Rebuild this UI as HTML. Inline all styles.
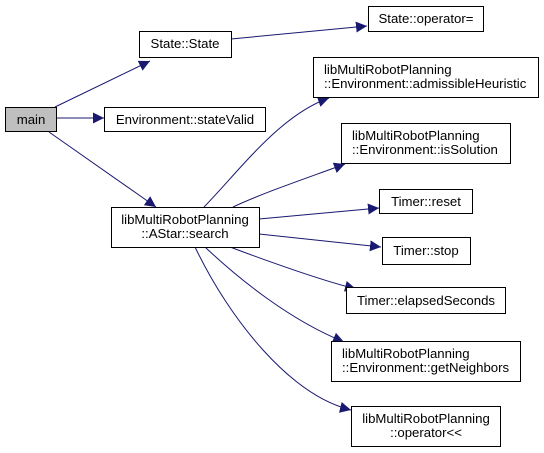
<!DOCTYPE html>
<html><head><style>body{margin:0;background:#fff}svg{display:block}text{font-family:"Liberation Sans",sans-serif;font-size:13.2px;fill:#000}</style></head><body>
<svg width="544" height="453" viewBox="0 0 544 453">
<defs><marker id="a" viewBox="0 0 10 10" refX="10" refY="5" markerWidth="11" markerHeight="11" markerUnits="userSpaceOnUse" orient="auto"><path d="M0,0L10,5L0,10z" fill="#191970"/></marker></defs>
<g fill="none" stroke="#191970" stroke-width="1" marker-end="url(#a)">
<path d="M55,107L150,61"/>
<path d="M231,39L367,26"/>
<path d="M56,118L104,118"/>
<path d="M49,132L156,207"/>
<path d="M204,207C240,170 280,115 329,98"/>
<path d="M233,207C265,192 310,177 345,164"/>
<path d="M259,219L379,208"/>
<path d="M259,234L381,247"/>
<path d="M230,247C270,262 320,280 356,289"/>
<path d="M205,247C240,280 290,320 344,342"/>
<path d="M195,247C230,320 290,395 351,410"/>
</g>
<g stroke="#000" stroke-width="1" fill="#fff">
<rect x="5.5" y="107.5" width="51" height="24" fill="#bfbfbf"/>
<rect x="139.5" y="31.5" width="92" height="26"/>
<rect x="104.5" y="107.5" width="161" height="24"/>
<rect x="111.5" y="207.5" width="148" height="40"/>
<rect x="368.5" y="6.5" width="115" height="25"/>
<rect x="313.5" y="57.5" width="225" height="40"/>
<rect x="341.5" y="123.5" width="169" height="40"/>
<rect x="379.5" y="189.5" width="93" height="24"/>
<rect x="382.5" y="237.5" width="88" height="27"/>
<rect x="346.5" y="287.5" width="159" height="26"/>
<rect x="331.5" y="341.5" width="189" height="40"/>
<rect x="351.5" y="406.5" width="149" height="40"/>
</g>
<g text-anchor="middle">
<text x="31" y="124">main</text>
<text x="185" y="48">State::State</text>
<text x="185" y="124">Environment::stateValid</text>
<text x="185" y="224">libMultiRobotPlanning</text>
<text x="185" y="238">::AStar::search</text>
<text x="426" y="23">State::operator=</text>
<text x="426" y="206">Timer::reset</text>
<text x="426" y="255">Timer::stop</text>
<text x="426" y="305">Timer::elapsedSeconds</text>
<text x="426" y="423">libMultiRobotPlanning</text>
<text x="426" y="437">::operator&lt;&lt;</text>
</g>
<text x="324" y="74">libMultiRobotPlanning</text>
<text x="324" y="88">::Environment::admissibleHeuristic</text>
<text x="352" y="140">libMultiRobotPlanning</text>
<text x="352" y="154">::Environment::isSolution</text>
<text x="342" y="358">libMultiRobotPlanning</text>
<text x="342" y="372">::Environment::getNeighbors</text>
</svg>
</body></html>
